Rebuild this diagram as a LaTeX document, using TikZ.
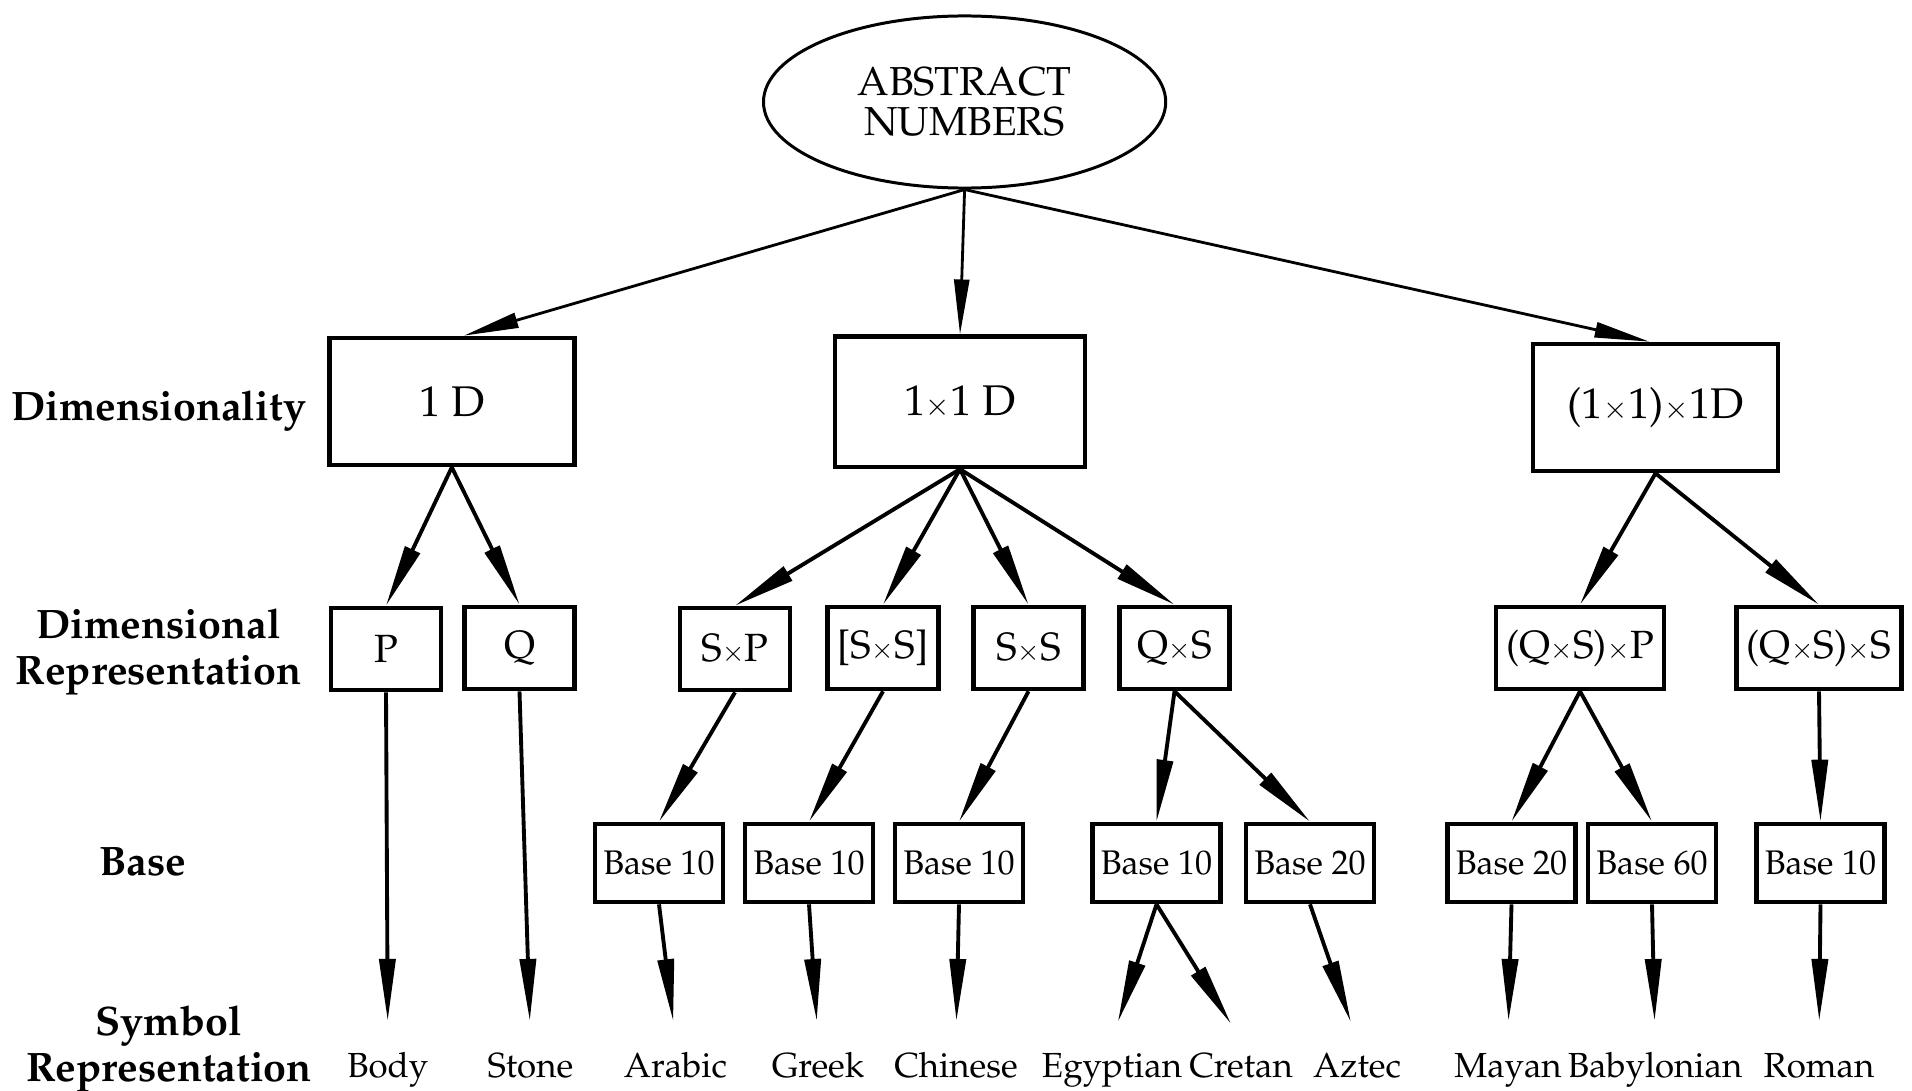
\documentclass[tikz,border=0pt]{standalone}
\usepackage[T1]{fontenc}
\usepackage{mathpazo}
\usepackage{graphicx}
\usetikzlibrary{shapes.geometric,arrows.meta}

\newcommand{\ttimes}{\scalebox{0.7}{$\times$}}

\tikzset{
  dimbox/.style={draw, line width=1.3pt, minimum width=2.45cm, minimum height=1.27cm,
    font=\fontsize{12.2}{14}\selectfont},
  repbox/.style={draw, line width=1.3pt, minimum width=1.1cm, minimum height=0.82cm,
    inner xsep=0.1cm, font=\fontsize{11.2}{13}\selectfont},
  basebox/.style={draw, line width=1.3pt, minimum width=1.28cm, minimum height=0.78cm,
    inner xsep=0.06cm, font=\fontsize{9.7}{11}\selectfont},
  symb/.style={anchor=base, text height=7pt, font=\fontsize{9.9}{12}\selectfont},
  rowname/.style={align=center, font=\fontsize{11.7}{13}\selectfont\bfseries},
  link/.style={-{Triangle[length=0.62cm,width=0.16cm]}, line width=1.1pt},
  toplink/.style={-{Triangle[length=0.55cm,width=0.15cm]}, line width=0.8pt},
  tosymb/.style={link, shorten >=0.19cm}
}

\begin{document}
\begin{tikzpicture}[x=0.01cm, y=-0.01cm]
  \useasboundingbox (0,0) rectangle (1912,1091);

  % -- racine
  \node[draw, ellipse, line width=0.85pt, minimum width=4.02cm, minimum height=1.72cm,
        align=center, font=\fontsize{11.5}{11.4}\selectfont] (abs) at (964.6,102)
        {ABSTRACT\\NUMBERS};

  % -- noms des niveaux
  \node[rowname, anchor=base] (dimname) at (158.5,420) {Dimensionality};
  \node[rowname] (repname) at (158.5,652) {Dimensional\\Representation};
  \node[rowname] (basename) at (142.7,862) {Base};
  \node[rowname] (symname) at (169,1049) {Symbol\\Representation};

  % -- dimensionality
  \node[dimbox] (d1) at (451.8,401.5) {1 D};
  \node[dimbox, minimum width=2.5cm, minimum height=1.3cm] (d2) at (960,401.8) {1\ttimes1 D};
  \node[dimbox] (d3) at (1655.5,407.5) {(1\ttimes1)\ttimes1D};

  % -- dimensional representation
  \node[repbox] (rP) at (386,649) {P};
  \node[repbox] (rQ) at (519.5,648) {Q};
  \node[repbox] (rSP) at (735,649) {S\ttimes P};
  \node[repbox] (rSSb) at (883,648) {[S\ttimes S]};
  \node[repbox] (rSS) at (1028.5,648) {S\ttimes S};
  \node[repbox] (rQS) at (1174.5,648) {Q\ttimes S};
  \node[repbox] (rQSP) at (1580,648) {(Q\ttimes S)\ttimes P};
  \node[repbox] (rQSS) at (1819,648) {(Q\ttimes S)\ttimes S};

  % -- base
  \node[basebox] (bArab) at (659,863) {Base 10};
  \node[basebox] (bGreek) at (809,863) {Base 10};
  \node[basebox] (bChin) at (959,863) {Base 10};
  \node[basebox] (bEgyp) at (1156.5,863) {Base 10};
  \node[basebox] (bAzt) at (1310,863) {Base 20};
  \node[basebox] (bMaya) at (1511.5,863) {Base 20};
  \node[basebox] (bBaby) at (1652,863) {Base 60};
  \node[basebox] (bRoma) at (1820.5,863) {Base 10};

  % -- symbol representation
  \node[symb] (body) at (387.8,1077) {Body};
  \node[symb] (stone) at (530.4,1077) {Stone};
  \node[symb] (arab) at (675.5,1077) {Arabic};
  \node[symb] (greek) at (818,1077) {Greek};
  \node[symb] (chin) at (956,1077) {Chinese};
  \node[symb] (egyp) at (1112,1077) {Egyptian};
  \node[symb] (cret) at (1241,1077) {Cretan};
  \node[symb] (azt) at (1357,1077) {Aztec};
  \node[symb] (maya) at (1508,1077) {Mayan};
  \node[symb] (baby) at (1655,1077) {Babylonian};
  \node[symb] (roma) at (1819,1077) {Roman};

  % fleches depuis la racine
  \draw[toplink] (abs.south) -- ([xshift=0.12cm]d1.north);
  \draw[toplink] (abs.south) -- (d2.north);
  \draw[toplink] (abs.south) -- ([xshift=-0.06cm]d3.north);

  % dimensionality -> representation
  \draw[link] (d1.south) -- (rP.north);
  \draw[link] (d1.south) -- (rQ.north);
  \draw[link] (d2.south) -- (rSP.north);
  \draw[link] (d2.south) -- (rSSb.north);
  \draw[link] (d2.south) -- (rSS.north);
  \draw[link] (d2.south) -- (rQS.north);
  \draw[link] (d3.south) -- (rQSP.north);
  \draw[link] (d3.south) -- (rQSS.north);

  % representation -> base
  \draw[link] (rSP.south) -- (bArab.north);
  \draw[link] (rSSb.south) -- (bGreek.north);
  \draw[link] (rSS.south) -- (bChin.north);
  \draw[link] (rQS.south) -- (bEgyp.north);
  \draw[link] (rQS.south) -- (bAzt.north);
  \draw[link] (rQSP.south) -- (bMaya.north);
  \draw[link] (rQSP.south) -- (bBaby.north);
  \draw[link] (rQSS.south) -- (bRoma.north);

  % -> symboles
  \draw[tosymb] (rP.south) -- (body.north);
  \draw[tosymb] (rQ.south) -- (stone.north);
  \draw[tosymb] (bArab.south) -- (arab.north);
  \draw[tosymb] (bGreek.south) -- (greek.north);
  \draw[tosymb] (bChin.south) -- (chin.north);
  \draw[tosymb] (bEgyp.south) -- (egyp.north);
  \draw[tosymb] (bEgyp.south) -- (cret.north);
  \draw[tosymb] (bAzt.south) -- (azt.north);
  \draw[tosymb] (bMaya.south) -- (maya.north);
  \draw[tosymb] (bBaby.south) -- (baby.north);
  \draw[tosymb] (bRoma.south) -- (roma.north);
\end{tikzpicture}
\end{document}
